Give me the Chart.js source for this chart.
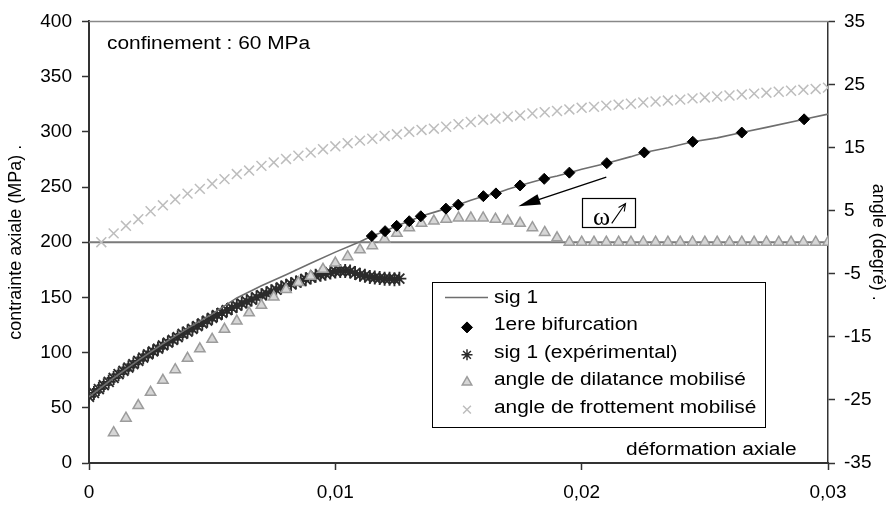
<!DOCTYPE html>
<html>
<head>
<meta charset="utf-8">
<script src="https://cdn.jsdelivr.net/npm/chart.js@4.4.1/dist/chart.umd.min.js"></script>
<style>
html, body { margin: 0; padding: 0; background: #fff; }
#wrap { width: 892px; height: 508px; }
</style>
</head>
<body>
<div id="wrap"><canvas id="graph"></canvas></div>
<script>
// sig 1 (simulation) : deformation axiale / contrainte (MPa)
var sigStrain = [0, 0.001, 0.002, 0.003, 0.004, 0.005, 0.006, 0.007, 0.0075, 0.008, 0.009, 0.010, 0.011,
	0.01148, 0.01202, 0.01249, 0.0130, 0.01347, 0.0140, 0.01449, 0.01499, 0.0155, 0.01601, 0.01652, 0.0170,
	0.01750, 0.0180, 0.01848, 0.0190, 0.01950, 0.0200, 0.02102, 0.0220, 0.02254, 0.0235, 0.02451, 0.0255,
	0.02650, 0.0275, 0.02903, 0.0300];
var sigStress = [60, 77, 93, 108, 122, 135, 149.5, 160.5, 165.5, 170.5, 181, 191, 200.5,
	205.6, 210, 214.8, 219, 223.5, 227, 230.4, 234, 238, 241.7, 244.2, 248,
	251.4, 254.5, 257.4, 260, 263, 266, 271.6, 277.5, 281.3, 285.5, 291, 294.5,
	299.3, 304, 311.3, 316];

// 1ere bifurcation
var bifStrain = [0.01148, 0.01202, 0.01249, 0.0130, 0.01347, 0.01449, 0.01499, 0.01601, 0.01652,
	0.01750, 0.01848, 0.01950, 0.02102, 0.02254, 0.02451, 0.02650, 0.02903];
var bifStress = [205.6, 210, 214.8, 219, 223.5, 230.4, 234, 241.7, 244.2,
	251.4, 257.4, 263, 271.6, 281.3, 291, 299.3, 311.3];

// sig 1 (experimental)
var expStrain = [0, 0.0002, 0.0004, 0.0006, 0.0008, 0.0010, 0.0012, 0.0014, 0.0016, 0.0018,
	0.0020, 0.0022, 0.0024, 0.0026, 0.0028, 0.0030, 0.0032, 0.0034, 0.0036, 0.0038,
	0.0040, 0.0042, 0.0044, 0.0046, 0.0048, 0.0050, 0.0052, 0.0054, 0.0056, 0.0058,
	0.0060, 0.0062, 0.0064, 0.0066, 0.0068, 0.0070, 0.0072, 0.0074, 0.0076, 0.0078,
	0.0080, 0.0082, 0.0084, 0.0086, 0.0088, 0.0090, 0.0092, 0.0094, 0.0096, 0.0098,
	0.0100, 0.0102, 0.0104, 0.0106, 0.0108, 0.0110, 0.0112, 0.0114, 0.0116, 0.0118,
	0.0120, 0.0122, 0.0124, 0.0126];
var expStress = [60, 63.5, 67, 70.5, 73.5, 77, 80.5, 83.5, 86.5, 89.5,
	92.5, 95.5, 98.5, 101, 103.5, 106.5, 109, 111.5, 114, 117,
	119, 121.5, 124, 126.5, 129, 131.5, 134, 136, 138.5, 140.5,
	142.5, 144.5, 146.5, 148, 150, 152, 153.5, 155.5, 157, 159,
	160.5, 162, 163.5, 165, 166.5, 168, 169.5, 170.5, 171.5, 172.5,
	173.5, 174, 174, 173.5, 172, 170.5, 169.5, 168.5, 168, 167.5,
	167, 167, 166.5, 167];

// angles (degres), axe secondaire
var angStrain = [0.0005, 0.001, 0.0015, 0.002, 0.0025, 0.003, 0.0035, 0.004, 0.0045, 0.005,
	0.0055, 0.006, 0.0065, 0.007, 0.0075, 0.008, 0.0085, 0.009, 0.0095, 0.010,
	0.0105, 0.011, 0.0115, 0.012, 0.0125, 0.013, 0.0135, 0.014, 0.0145, 0.015,
	0.0155, 0.016, 0.0165, 0.017, 0.0175, 0.018, 0.0185, 0.019, 0.0195, 0.020,
	0.0205, 0.021, 0.0215, 0.022, 0.0225, 0.023, 0.0235, 0.024, 0.0245, 0.025,
	0.0255, 0.026, 0.0265, 0.027, 0.0275, 0.028, 0.0285, 0.029, 0.0295, 0.030];
var dilAngle = [null, -30.2, -27.9, -25.9, -23.8, -21.9, -20.2, -18.4, -16.9, -15.4,
	-13.8, -12.5, -11.2, -10.0, -8.7, -7.5, -6.4, -5.4, -4.3, -3.3,
	-2.3, -1.2, -0.55, 0.5, 1.4, 2.3, 3.0, 3.35, 3.65, 3.85,
	3.85, 3.85, 3.65, 3.35, 3.0, 2.3, 1.55, 0.7, 0, 0,
	0, 0, 0, 0, 0, 0, 0, 0, 0, 0,
	0, 0, 0, 0, 0, 0, 0, 0, 0, 0];
var frotAngle = [0, 1.4, 2.6, 3.65, 4.9, 5.85, 6.8, 7.7, 8.45, 9.25,
	10.0, 10.8, 11.35, 12.1, 12.65, 13.2, 13.7, 14.2, 14.75, 15.2,
	15.7, 16.1, 16.4, 16.85, 17.1, 17.5, 17.8, 18.0, 18.3, 18.7,
	19.05, 19.4, 19.6, 19.9, 20.1, 20.4, 20.6, 20.8, 21.05, 21.3,
	21.45, 21.65, 21.8, 21.95, 22.15, 22.3, 22.45, 22.6, 22.8, 22.95,
	23.1, 23.25, 23.4, 23.55, 23.7, 23.85, 24.0, 24.15, 24.3, 24.5];

// ligne horizontale (200 MPa = 0 degre)
var refStrain = [0, 0.03];
var refStress = [200, 200];

var labels = ['sig 1', '1ere bifurcation', 'sig 1 (expérimental)', 'angle de dilatance mobilisé', 'angle de frottement mobilisé'];

function pts(xs, ys) {
	var out = [];
	for (var i in xs) {
		if (ys[i] !== null) out.push({x: xs[i], y: ys[i]});
	}
	return out;
}

var fontName = '"Liberation Sans", Arial, sans-serif';
Chart.defaults.font.family = fontName;
Chart.defaults.font.size = 19;
Chart.defaults.color = '#000';

function wideText(ctx, txt, x, y, align) {
	ctx.save();
	ctx.translate(x, y);
	ctx.scale(1.16, 1);
	ctx.textAlign = align;
	ctx.fillText(txt, 0, 0);
	ctx.restore();
}

var extras = {
	id: 'extras',
	afterDatasetsDraw: function(chart) {
		var ctx = chart.ctx, sx = chart.scales.x, sy = chart.scales.y, a = chart.chartArea;
		ctx.save();
		ctx.strokeStyle = '#888';
		ctx.lineWidth = 1.5;
		ctx.beginPath();
		ctx.moveTo(a.left, a.top);
		ctx.lineTo(a.right, a.top);
		ctx.stroke();

		ctx.fillStyle = '#000';
		ctx.font = '18px ' + fontName;
		ctx.textBaseline = 'alphabetic';
		wideText(ctx, 'confinement : 60 MPa', sx.getPixelForValue(0.00073), sy.getPixelForValue(374.8), 'left');
		wideText(ctx, 'déformation axiale', sx.getPixelForValue(0.02873), sy.getPixelForValue(7.2), 'right');

		// fleche
		var x0 = sx.getPixelForValue(0.0210), y0 = sy.getPixelForValue(259);
		var x1 = sx.getPixelForValue(0.01743), y1 = sy.getPixelForValue(232.5);
		var ang = Math.atan2(y1 - y0, x1 - x0);
		ctx.strokeStyle = '#000';
		ctx.lineWidth = 1.4;
		ctx.beginPath();
		ctx.moveTo(x0, y0);
		ctx.lineTo(x1 - 15 * Math.cos(ang), y1 - 15 * Math.sin(ang));
		ctx.stroke();
		ctx.beginPath();
		ctx.moveTo(x1, y1);
		ctx.lineTo(x1 - 22 * Math.cos(ang) + 5.5 * Math.sin(ang), y1 - 22 * Math.sin(ang) - 5.5 * Math.cos(ang));
		ctx.lineTo(x1 - 22 * Math.cos(ang) - 5.5 * Math.sin(ang), y1 - 22 * Math.sin(ang) + 5.5 * Math.cos(ang));
		ctx.closePath();
		ctx.fill();

		// omega
		var bx0 = sx.getPixelForValue(0.02003), by0 = sy.getPixelForValue(240);
		var bx1 = sx.getPixelForValue(0.02219), by1 = sy.getPixelForValue(213.9);
		ctx.lineWidth = 1.2;
		ctx.fillStyle = '#fff';
		ctx.fillRect(bx0, by0, bx1 - bx0, by1 - by0);
		ctx.strokeRect(Math.round(bx0) + 0.5, Math.round(by0) + 0.5, Math.round(bx1 - bx0), Math.round(by1 - by0));
		ctx.fillStyle = '#000';
		ctx.font = '26px "Liberation Serif", "Times New Roman", serif';
		ctx.textAlign = 'center';
		ctx.fillText('ω', sx.getPixelForValue(0.02081), sy.getPixelForValue(215.5));
		var ax0 = sx.getPixelForValue(0.02122), ay0 = sy.getPixelForValue(217);
		var ax1 = sx.getPixelForValue(0.02178), ay1 = sy.getPixelForValue(235);
		var a2 = Math.atan2(ay1 - ay0, ax1 - ax0);
		ctx.lineWidth = 1.1;
		ctx.beginPath();
		ctx.moveTo(ax0, ay0);
		ctx.lineTo(ax1, ay1);
		ctx.moveTo(ax1 - 8 * Math.cos(a2 - 0.45), ay1 - 8 * Math.sin(a2 - 0.45));
		ctx.lineTo(ax1, ay1);
		ctx.lineTo(ax1 - 8 * Math.cos(a2 + 0.45), ay1 - 8 * Math.sin(a2 + 0.45));
		ctx.stroke();
		ctx.restore();
	},
	afterDraw: function(chart) {
		// legende
		var ctx = chart.ctx;
		var ds = chart.data.datasets;
		ctx.save();
		ctx.fillStyle = '#fff';
		ctx.fillRect(432.5, 282.5, 333, 145);
		ctx.strokeStyle = '#000';
		ctx.lineWidth = 1;
		ctx.strokeRect(432.5, 282.5, 333, 145);
		ctx.font = '18px ' + fontName;
		ctx.textBaseline = 'alphabetic';
		for (var i = 0; i < 5; i++) {
			var d = ds[i];
			var base = 303 + i * 27.4;
			if (d.showLine) {
				ctx.strokeStyle = d.borderColor;
				ctx.lineWidth = d.borderWidth;
				ctx.beginPath();
				ctx.moveTo(445, base - 5.5);
				ctx.lineTo(488, base - 5.5);
				ctx.stroke();
			} else {
				ctx.fillStyle = d.backgroundColor || d.borderColor;
				ctx.strokeStyle = d.borderColor;
				ctx.lineWidth = Math.min(d.borderWidth, 1.5);
				Chart.helpers.drawPoint(ctx, {pointStyle: d.pointStyle, radius: Math.min(d.pointRadius, 5.5), rotation: 0, borderWidth: d.borderWidth}, 467, base - 3);
			}
			ctx.fillStyle = '#000';
			wideText(ctx, d.label, 494, base, 'left');
		}
		ctx.restore();
	}
};

var ctx = document.getElementById('graph');

var chart = new Chart(ctx, {
	type: 'scatter',
	data: {
		datasets: [
			{
				label: labels[0],
				data: pts(sigStrain, sigStress),
				showLine: true,
				borderColor: '#6e6e6e',
				borderWidth: 1.6,
				pointRadius: 0,
				yAxisID: 'y',
				order: 4
			},
			{
				label: labels[1],
				data: pts(bifStrain, bifStress),
				pointStyle: 'rectRot',
				pointRadius: 5.5,
				backgroundColor: '#000',
				borderColor: '#000',
				borderWidth: 1,
				yAxisID: 'y',
				order: 1
			},
			{
				label: labels[2],
				data: pts(expStrain, expStress),
				pointStyle: 'star',
				pointRadius: 7,
				borderColor: '#2b2b2b',
				borderWidth: 1.9,
				yAxisID: 'y',
				order: 5
			},
			{
				label: labels[3],
				data: pts(angStrain, dilAngle),
				pointStyle: 'triangle',
				pointRadius: 6,
				backgroundColor: '#d6d6d6',
				borderColor: '#9c9c9c',
				borderWidth: 1.5,
				yAxisID: 'y1',
				order: 2
			},
			{
				label: labels[4],
				data: pts(angStrain, frotAngle),
				pointStyle: 'crossRot',
				pointRadius: 7,
				borderColor: '#bdbdbd',
				borderWidth: 1.5,
				yAxisID: 'y1',
				order: 3
			},
			{
				label: 'ref',
				data: pts(refStrain, refStress),
				showLine: true,
				borderColor: '#7a7a7a',
				borderWidth: 2,
				pointRadius: 0,
				yAxisID: 'y',
				order: 10
			}
		]
	},
	options: {
		responsive: true,
		maintainAspectRatio: false,
		animation: false,
		events: [],
		layout: { padding: { top: 18, left: 0, right: 0, bottom: 0 } },
		plugins: {
			legend: { display: false },
			tooltip: { enabled: false }
		},
		scales: {
			x: {
				type: 'linear',
				min: 0,
				max: 0.03,
				afterFit: function(s) { s.height = 45; },
				ticks: {
					stepSize: 0.01,
					padding: 11,
					callback: function(v) { return v === 0 ? '0' : v.toFixed(2).replace('.', ','); }
				},
				grid: { drawOnChartArea: false, tickLength: 7, tickColor: '#333', tickWidth: 1.5 },
				border: { display: true, color: '#333', width: 2 }
			},
			y: {
				position: 'left',
				min: 0,
				max: 400,
				afterFit: function(s) { s.width = 89; },
				ticks: { stepSize: 50, padding: 10 },
				grid: { drawOnChartArea: false, tickLength: 7, tickColor: '#333', tickWidth: 1.5 },
				border: { display: true, color: '#333', width: 2 },
				title: { display: true, text: 'contrainte axiale (MPa) .', font: { size: 18 }, padding: { top: 5, bottom: 0 } }
			},
			y1: {
				position: 'right',
				min: -35,
				max: 35,
				afterFit: function(s) { s.width = 64; },
				ticks: { stepSize: 10, padding: 9 },
				grid: { drawOnChartArea: false, tickLength: 7, tickColor: '#333', tickWidth: 1.5 },
				border: { display: true, color: '#333', width: 1.5 },
				title: { display: true, text: 'angle (degré) .', font: { size: 18 }, padding: { top: 3, bottom: 0 } }
			}
		}
	},
	plugins: [extras]
});
</script>
</body>
</html>
